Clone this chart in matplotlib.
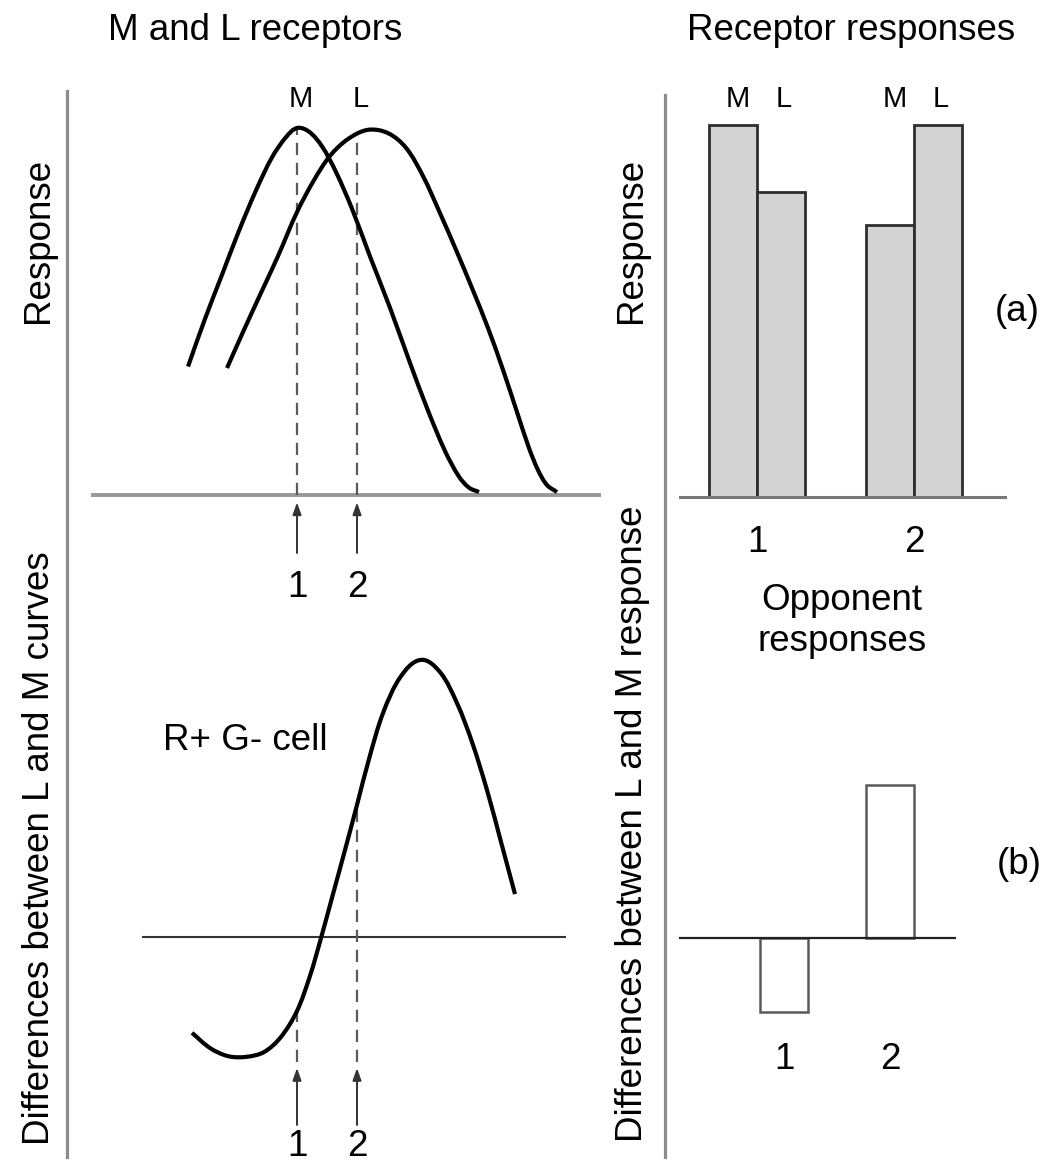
import numpy as np
import matplotlib
matplotlib.use("Agg")
import matplotlib.pyplot as plt
from matplotlib.path import Path
from matplotlib.patches import PathPatch
from matplotlib.lines import Line2D

plt.rcParams["font.family"] = ["Liberation Sans", "DejaVu Sans"]

# cone sensitivity curves (wavelength in nm, normalised response)
m_wl = [475.5, 484, 492.5, 501, 509.5, 517.5, 524.5, 530, 536, 542.5, 549.5, 557.5, 566.5, 576.5,
        586.5, 595.5, 604, 611, 616, 621]
m_resp = [0.35, 0.48, 0.60, 0.72, 0.83, 0.92, 0.975, 1.00, 0.99, 0.95, 0.88, 0.78, 0.65, 0.51,
          0.36, 0.23, 0.12, 0.050, 0.020, 0.008]
l_wl = [495, 503, 511.5, 520.5, 530, 538.5, 546.5, 555.5, 565.5, 575.5, 584.5, 593, 601.5, 609.5,
        617.5, 625.5, 633, 640, 646, 650.5, 655, 660]
l_resp = [0.346, 0.444, 0.545, 0.651, 0.771, 0.858, 0.924, 0.970, 0.995, 0.986, 0.946, 0.869, 0.768,
          0.668, 0.564, 0.455, 0.341, 0.226, 0.128, 0.068, 0.027, 0.008]

# L minus M opponent curve
diff_wl = [477.5, 486.5, 495.5, 504.5, 513.5, 522, 530, 536.5, 542, 548, 554, 560, 566, 573, 582,
           592, 601.5, 610, 617.5, 625, 632, 639]
diff_val = [-0.259, -0.300, -0.322, -0.324, -0.311, -0.270, -0.200, -0.105, -0.003, 0.116, 0.235,
            0.357, 0.481, 0.605, 0.705, 0.749, 0.716, 0.632, 0.527, 0.397, 0.257, 0.116]

# the two test wavelengths
stim_wl = [530, 560]
stim_labels = ["1", "2"]
stim_top = [1.0, 0.985]       # higher receptor curve at each stimulus
stim_diff = [-0.20, 0.357]    # opponent curve at each stimulus

# receptor responses per stimulus
groups = [1, 2]
m_bar = [1.0, 0.73]
l_bar = [0.82, 1.0]
# opponent (L - M) responses per stimulus
opponent = [-0.20, 0.41]

W, H = 1043, 1164
fig = plt.figure(figsize=(W / 100, H / 100), dpi=100)


def panel(left, top, right, bottom, xref, yref):
    # axes placed by pixel box; xref/yref = (pixel, value, pixels per unit)
    ax = fig.add_axes([left / W, 1 - bottom / H, (right - left) / W, (bottom - top) / H])
    px, xv, kx = xref
    ax.set_xlim(xv + (left - px) / kx, xv + (right - px) / kx)
    py, yv, ky = yref
    ax.set_ylim(yv - (bottom - py) / ky, yv + (py - top) / ky)
    ax.axis("off")
    return ax


def ftext(px, py, s, **kw):
    fig.text(px / W, 1 - py / H, s, **kw)


def smooth_path(x, y, kx, ky):
    # cubic bezier through the samples, tangents worked out in screen scale
    p = np.column_stack([np.asarray(x, float) * kx, np.asarray(y, float) * ky])
    t = np.empty_like(p)
    t[1:-1] = p[2:] - p[:-2]
    t[0] = p[1] - p[0]
    t[-1] = p[-1] - p[-2]
    t /= np.linalg.norm(t, axis=1)[:, None]
    verts, codes = [p[0]], [Path.MOVETO]
    for i in range(len(p) - 1):
        d = np.linalg.norm(p[i + 1] - p[i]) / 3
        verts += [p[i] + t[i] * d, p[i + 1] - t[i + 1] * d, p[i + 1]]
        codes += [Path.CURVE4] * 3
    return Path(np.array(verts) / [kx, ky], codes)


def curve(ax, x, y, kx, ky):
    ax.add_patch(PathPatch(smooth_path(x, y, kx, ky), fill=False, color="black", lw=3.0,
                           capstyle="butt", joinstyle="round", zorder=4, clip_on=False))


def arrow(ax, x, y0, y1):
    ax.annotate("", xy=(x, y1), xytext=(x, y0), annotation_clip=False,
                arrowprops=dict(arrowstyle="-|>,head_length=0.45,head_width=0.16",
                                mutation_scale=16, color="#333333", lw=1.4,
                                shrinkA=0, shrinkB=0))


big = 26.5
dash = (0, (5.5, 3.5))

# --- M and L receptor curves ---
ax1 = panel(91, 60, 601, 610, (297, 530, 2.0), (495, 0, 367))
ax1.axhline(0, color="#999999", lw=2.8, zorder=1)
curve(ax1, m_wl, m_resp, 2.0, 367)
curve(ax1, l_wl, l_resp, 2.0, 367)
for x, top, lab, name in zip(stim_wl, stim_top, stim_labels, ["M", "L"]):
    ax1.vlines(x, 0, top, colors="#5a5a5a", lw=1.6, linestyles=dash, zorder=2)
    arrow(ax1, x, -0.158, -0.02)
    ax1.text(x, -0.278, lab, ha="center", va="baseline", fontsize=big)
    ax1.text(x + 2, 1.057, name, ha="center", va="baseline", fontsize=21)

# --- opponent curve ---
ax2 = panel(142, 640, 566, 1164, (297, 530, 2.0), (937, 0, 370))
ax2.axhline(0, color="#333333", lw=1.5, zorder=1)
curve(ax2, diff_wl, diff_val, 2.0, 370)
for x, d, lab in zip(stim_wl, stim_diff, stim_labels):
    ax2.vlines(x, -0.338, d, colors="#5a5a5a", lw=1.6, linestyles=dash, zorder=2)
    arrow(ax2, x, -0.508, -0.354)
    ax2.text(x, -0.592, lab, ha="center", va="baseline", fontsize=big)
ax2.text(463, 0.505, "R+ G- cell", ha="left", va="baseline", fontsize=big)

# --- receptor response bars ---
bw = 0.305
ax3 = panel(679, 60, 1007, 600, (757, 1, 157), (497, 0, 372))
gx = np.array(groups, dtype=float)
ax3.bar(gx - bw / 2, m_bar, bw, color="#d3d3d3", edgecolor="#2e2e2e", lw=2.0, zorder=2)
ax3.bar(gx + bw / 2, l_bar, bw, color="#d3d3d3", edgecolor="#2e2e2e", lw=2.0, zorder=2)
ax3.axhline(0, color="#777777", lw=2.2, zorder=3)
for g, lab in zip(gx, stim_labels):
    ax3.text(g - bw / 2 + 0.03, 1.048, "M", ha="center", va="baseline", fontsize=21)
    ax3.text(g + bw / 2 + 0.02, 1.048, "L", ha="center", va="baseline", fontsize=21)
    ax3.text(g, -0.148, lab, ha="center", va="baseline", fontsize=big)

# --- opponent response bars ---
ax4 = panel(679, 640, 956, 1164, (784, 1, 106), (938, 0, 372))
ax4.bar(groups, opponent, 0.45, color="white", edgecolor="#5a5a5a", lw=1.8, zorder=2)
ax4.axhline(0, color="#222222", lw=1.6, zorder=3)
for g, lab in zip(groups, stim_labels):
    ax4.text(g, -0.352, lab, ha="center", va="baseline", fontsize=big)

# column separators
for x, y0 in [(67, 91), (665, 95)]:
    fig.add_artist(Line2D([x / W, x / W], [1 - y0 / H, 1 - 1157 / H], color="#8c8c8c", lw=2.3,
                          transform=fig.transFigure))

# titles and labels
ftext(255, 40, "M and L receptors", ha="center", va="baseline", fontsize=big)
ftext(851, 40, "Receptor responses", ha="center", va="baseline", fontsize=big)
ftext(842, 610, "Opponent", ha="center", va="baseline", fontsize=big)
ftext(842, 651, "responses", ha="center", va="baseline", fontsize=big)
ftext(1017, 312, "(a)", ha="center", va="center", fontsize=big)
ftext(1019, 864, "(b)", ha="center", va="center", fontsize=big)

rot = dict(rotation=90, rotation_mode="anchor", ha="center", va="baseline", fontsize=big)
ftext(48, 240, "Response", **rot)
ftext(49, 848, "Differences between L and M curves", **rot)
ftext(641, 240, "Response", **rot)
ftext(642, 824, "Differences between L and M response", **rot)

fig.savefig("out.png", dpi=100)
